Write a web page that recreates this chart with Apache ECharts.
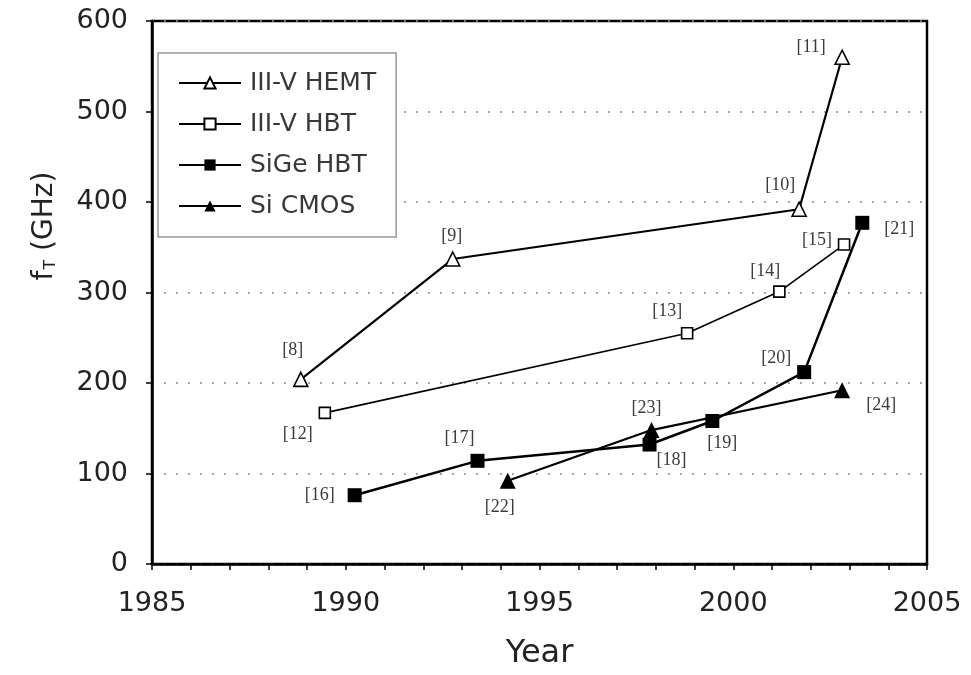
<!DOCTYPE html>
<html>
<head>
<meta charset="utf-8">
<script src="https://cdn.jsdelivr.net/npm/echarts@6/dist/echarts.min.js"></script>
<style>
  html, body { margin: 0; padding: 0; background: #fff; }
  #chart { width: 971px; height: 675px; }
</style>
</head>
<body>
<div id="chart"></div>
<script>
// Cut-off frequency fT of high-speed transistors by year of publication
const seriesNames = ['III-V HEMT', 'III-V HBT', 'SiGe HBT', 'Si CMOS'];

const hemtYears = [1988.84, 1992.76, 2001.70, 2002.81];
const hemtFt    = [204, 337, 392, 560];
const hemtRefs  = ['[8]', '[9]', '[10]', '[11]'];

const hbtYears = [1989.46, 1998.81, 2001.19, 2002.86];
const hbtFt    = [167, 255, 301, 353];
const hbtRefs  = ['[12]', '[13]', '[14]', '[15]'];

const sigeYears = [1990.23, 1993.40, 1997.84, 1999.46, 2001.83, 2003.33];
const sigeFt    = [76, 114, 132, 158, 212, 377];
const sigeRefs  = ['[16]', '[17]', '[18]', '[19]', '[20]', '[21]'];

const cmosYears = [1994.18, 1997.89, 2002.81];
const cmosFt    = [92, 148, 192];
const cmosRefs  = ['[22]', '[23]', '[24]'];

const yearTicks = [1985, 1990, 1995, 2000, 2005];
const ftTicks   = [0, 100, 200, 300, 400, 500, 600];

// Reference-label placement (pixel offsets from each marker)
const hemtLabelOffsets = [[-8, -29], [-1, -23], [-19, -24], [-31, -10]];
const hbtLabelOffsets  = [[-27, 21], [-20, -22], [-14, -20], [-27, -4]];
const sigeLabelOffsets = [[-35, 0], [-18, -23], [22, 16], [10, 22], [-28, -14], [37, 6]];
const cmosLabelOffsets = [[-8, 27], [-5, -22], [39, 15]];

const SANS = 'DejaVu Sans';
const SERIF = 'Liberation Serif';

function points(years, values, refs, offsets) {
  return years.map((yr, i) => ({
    value: [yr, values[i]],
    label: { formatter: refs[i], offset: offsets[i] }
  }));
}

const refLabel = {
  show: true,
  position: 'inside',
  fontFamily: SERIF,
  fontSize: 18,
  color: '#3a3a3a'
};

function lineSeries(name, data, symbol, size, filled, width) {
  return {
    name: name,
    type: 'line',
    data: data,
    symbol: symbol,
    symbolSize: size,
    showAllSymbol: true,
    lineStyle: { color: '#000', width: width },
    itemStyle: {
      color: filled ? '#000' : '#fff',
      borderColor: '#000',
      borderWidth: filled ? 0 : 1.6
    },
    label: refLabel,
    emphasis: { disabled: true },
    z: 3
  };
}

const chart = echarts.init(document.getElementById('chart'), null, { renderer: 'canvas' });

chart.setOption({
  animation: false,
  backgroundColor: '#fff',
  grid: {
    left: 152, right: 44, top: 21, bottom: 108,
    show: true, borderColor: '#000', borderWidth: 2.5
  },
  legend: {
    orient: 'vertical',
    left: 158, top: 53,
    data: seriesNames,
    itemWidth: 62, itemHeight: 14, itemGap: 15,
    padding: [17, 20, 18, 20],
    backgroundColor: '#fff',
    borderColor: '#999', borderWidth: 1.5, borderRadius: 0,
    textStyle: { fontFamily: SANS, fontSize: 25, color: '#383838', lineHeight: 26, padding: [0, 0, 0, 4] },
    selectedMode: false
  },
  xAxis: {
    type: 'value',
    min: yearTicks[0], max: yearTicks[yearTicks.length - 1], interval: 5,
    name: 'Year', nameLocation: 'middle', nameGap: 74,
    nameTextStyle: { fontFamily: SANS, fontSize: 32, color: '#222' },
    axisLine: { show: true, lineStyle: { color: '#000', width: 2.5 } },
    axisTick: { show: true, length: 6, lineStyle: { color: '#000', width: 1.5 } },
    minorTick: { show: true, splitNumber: 5, length: 6, lineStyle: { color: '#000', width: 1.5 } },
    axisLabel: { fontFamily: SANS, fontSize: 27, color: '#222', margin: 26,
      formatter: v => yearTicks.includes(v) ? String(v) : '' },
    splitLine: { show: false }
  },
  yAxis: {
    type: 'value',
    min: ftTicks[0], max: ftTicks[ftTicks.length - 1], interval: 100,
    axisLine: { show: true, lineStyle: { color: '#000', width: 2.5 } },
    axisTick: { show: true, length: 6, lineStyle: { color: '#000', width: 1.5 } },
    axisLabel: { fontFamily: SANS, fontSize: 27, color: '#222', margin: 24,
      formatter: v => ftTicks.includes(v) ? String(v) : '' },
    splitLine: { show: true, lineStyle: { color: '#888', width: 1.5, type: [2, 10] } }
  },
  graphic: [{
    type: 'text',
    x: 45, y: 226,
    rotation: Math.PI / 2,
    style: {
      text: '{f|f}{t|T}{g| (GHz)}',
      align: 'center', verticalAlign: 'middle',
      rich: {
        f: { fontFamily: SANS, fontSize: 28, fill: '#222', verticalAlign: 'bottom' },
        t: { fontFamily: SANS, fontSize: 16, fill: '#222', verticalAlign: 'bottom', padding: [0, 0, 0, 1] },
        g: { fontFamily: SANS, fontSize: 28, fill: '#222', verticalAlign: 'bottom' }
      }
    }
  }],
  series: [
    lineSeries(seriesNames[0], points(hemtYears, hemtFt, hemtRefs, hemtLabelOffsets), 'triangle', 14, false, 2.2),
    lineSeries(seriesNames[1], points(hbtYears, hbtFt, hbtRefs, hbtLabelOffsets), 'rect', 11, false, 1.6),
    lineSeries(seriesNames[2], points(sigeYears, sigeFt, sigeRefs, sigeLabelOffsets), 'rect', 14, true, 2.5),
    lineSeries(seriesNames[3], points(cmosYears, cmosFt, cmosRefs, cmosLabelOffsets), 'triangle', 16, true, 2.2)
  ]
});
</script>
</body>
</html>
